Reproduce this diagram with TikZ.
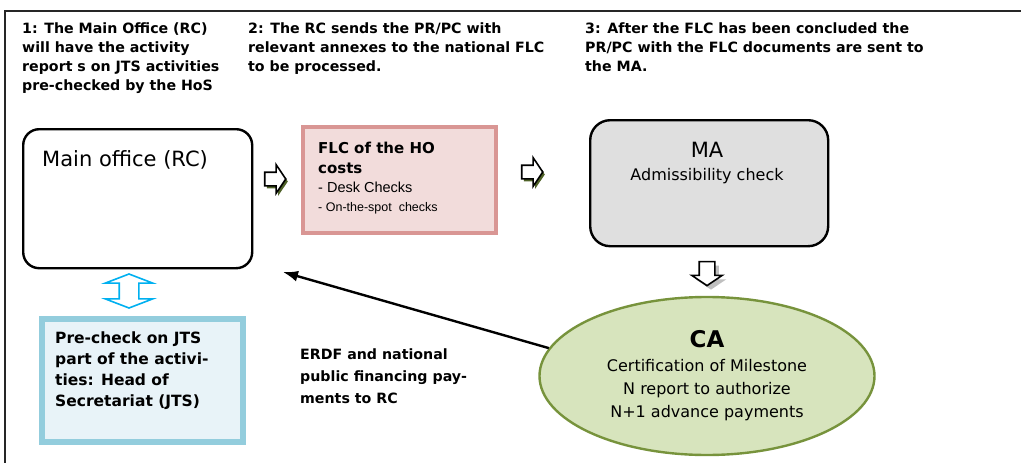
\documentclass[tikz,border=0pt]{standalone}
\usepackage{fontspec}
\setmainfont{DejaVu Sans}
\newfontfamily\arialfont{Liberation Sans}
\usetikzlibrary{arrows.meta,shapes.geometric,shapes.arrows,shadows,positioning}

\definecolor{flcfill}{HTML}{F2DCDB}
\definecolor{flcline}{HTML}{D99694}
\definecolor{mafill}{HTML}{DFDFDF}
\definecolor{hosfill}{HTML}{E8F3F8}
\definecolor{hosline}{HTML}{93CDDD}
\definecolor{cafill}{HTML}{D7E4BD}
\definecolor{caline}{HTML}{77933C}
\definecolor{linkblue}{HTML}{00B0F0}
\definecolor{shadegreen}{HTML}{4F6228}

\newcommand{\fsz}[2]{\fontsize{#1}{#2}\selectfont}

\begin{document}
\begin{tikzpicture}[x=1pt,y=-1pt,
  steptext/.style={anchor=base west, align=left, inner sep=0pt, font=\bfseries\fsz{14.2}{19}},
  hollowarrow/.style={single arrow, draw=black, fill=white, line width=1.6pt, inner xsep=0pt, inner ysep=6pt,
    minimum height=21pt, single arrow head extend=7.5pt, single arrow tip angle=112}]
   \useasboundingbox (0,0) rectangle (1021,463);
   \draw[line width=1.3pt, color=black!85] (5,463) -- (5,11) -- (1021,11);
   % the three steps (base = last line)
   \node[steptext] (step1) at (22,90) {1: The Main Office (RC)\\will have the activity\\report s on JTS activities\\pre-checked by the HoS};
   \node[steptext] (step2) at (248,71) {2: The RC sends the PR/PC with\\relevant annexes to the national FLC\\to be processed.};
   \node[steptext] (step3) at (585,71) {3: After the FLC has been concluded the\\PR/PC with the FLC documents are sent to\\the MA.};
   % main office
   \node[draw, line width=2.4pt, rounded corners=16pt, minimum width=229pt, minimum height=139pt, anchor=north west] (main) at (22,128) {};
   \node[anchor=base west, inner sep=0pt, font=\fsz{21}{25}] (maintext) at (42,166) {Main office (RC)};
   % FLC
   \node[draw=flcline, fill=flcfill, line width=4pt, minimum width=193pt, minimum height=106pt, anchor=north west] (flc) at (301,125) {};
   \node[anchor=base west, align=left, inner sep=0pt, font=\bfseries\fsz{15}{20}] (flctitle) at (318,173) {FLC of the HO\\costs};
   \node[anchor=base west, inner sep=0pt, font=\arialfont\fsz{14.5}{17}] (desk) at (318,192) {- Desk Checks};
   \node[anchor=base west, inner sep=0pt, font=\arialfont\fsz{12.5}{15}] (spot) at (318,211) {- On-the-spot\ \ checks};
   % MA
   \node[draw, fill=mafill, line width=2.4pt, rounded corners=20pt, minimum width=238pt, minimum height=126pt, anchor=north west] (ma) at (589,119) {};
   \node[anchor=base, inner sep=0pt, font=\fsz{21}{25}] (matitle) at (707,157) {MA};
   \node[anchor=base, inner sep=0pt, font=\fsz{16}{20}] (macheck) at (707,180) {Admissibility check};
   % CA
   \node[ellipse, draw=caline, fill=cafill, line width=2.4pt, minimum width=335pt, minimum height=158pt, align=center, inner sep=0pt, font=\fsz{16}{23.3}] (ca) at (707,376)
     {{\bfseries\fsz{23}{25}CA}\\Certification of Milestone\\N report to authorize\\N+1 advance payments};
   % head of secretariat
   \node[draw=hosline, fill=hosfill, line width=5.5pt, minimum width=201pt, minimum height=123pt, anchor=north west] (hos) at (39,316) {};
   \node[anchor=base west, align=left, inner sep=0pt, font=\bfseries\fsz{15.5}{21}] (hostext) at (55,406) {Pre-check on JTS\\part of the activi-\\ties: Head of\\Secretariat (JTS)};
   % block arrows
   \node[hollowarrow, drop shadow={shadow xshift=2pt, shadow yshift=-2.5pt, fill=shadegreen, opacity=1}] (toflc) at (273,179) {};
   \node[hollowarrow, drop shadow={shadow xshift=2pt, shadow yshift=-2.5pt, fill=shadegreen, opacity=1}] (toma) at (530,172) {};
   \node[hollowarrow, rotate=-90, minimum height=24pt, inner ysep=7pt, drop shadow={shadow xshift=4pt, shadow yshift=-4pt, fill=black!25, opacity=1}] (toca) at (707,271) {};
   \node[double arrow, draw=linkblue, fill=white, line width=1.6pt, rotate=90, inner xsep=0pt, inner ysep=9pt, minimum height=34pt, double arrow head extend=14pt, double arrow tip angle=138] (mainhos) at (129,291) {};
   % payments
   \coordinate (paytip) at (283,272);
   \draw[-{Latex[length=15pt,width=11pt]}, line width=2.4pt] (ca.170) -- (paytip);
   \node[anchor=base west, align=left, inner sep=0pt, font=\bfseries\fsz{14.2}{22}] (paylabel) at (300,403) {ERDF and national\\public financing pay-\\ments to RC};
\end{tikzpicture}
\end{document}
